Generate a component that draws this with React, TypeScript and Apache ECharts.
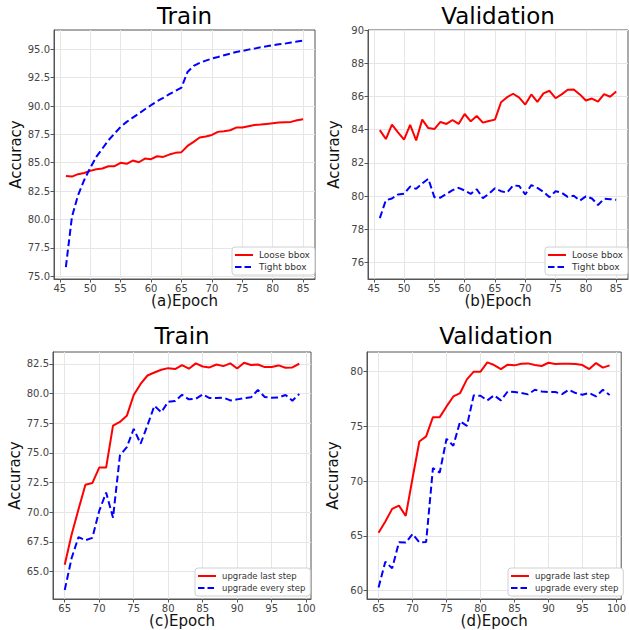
import React, { useEffect, useRef } from 'react';
import * as echarts from 'echarts';

// ---------- data ----------
const epochsTop = [46, 47, 48, 49, 50, 51, 52, 53, 54, 55, 56, 57, 58, 59, 60, 61, 62, 63, 64, 65, 66, 67, 68, 69, 70, 71, 72, 73, 74, 75, 76, 77, 78, 79, 80, 81, 82, 83, 84, 85];
const epochsBottom = [65, 66, 67, 68, 69, 70, 71, 72, 73, 74, 75, 76, 77, 78, 79, 80, 81, 82, 83, 84, 85, 86, 87, 88, 89, 90, 91, 92, 93, 94, 95, 96, 97, 98, 99];

const trainLoose = [83.84, 83.78, 83.99, 84.1, 84.28, 84.43, 84.49, 84.69, 84.69, 84.99, 84.9, 85.19, 85.04, 85.37, 85.31, 85.57, 85.51, 85.72, 85.87, 85.93, 86.48, 86.84, 87.22, 87.31, 87.45, 87.72, 87.78, 87.86, 88.1, 88.1, 88.22, 88.33, 88.36, 88.42, 88.48, 88.54, 88.57, 88.6, 88.74, 88.83];
const trainTight = [75.8, 80.23, 82.14, 83.46, 84.54, 85.51, 86.25, 86.98, 87.57, 88.16, 88.6, 88.98, 89.33, 89.71, 90.07, 90.42, 90.71, 91.04, 91.33, 91.62, 93.0, 93.53, 93.8, 94.0, 94.18, 94.32, 94.47, 94.62, 94.76, 94.85, 94.97, 95.06, 95.18, 95.26, 95.35, 95.44, 95.5, 95.59, 95.68, 95.76];
const valLoose = [83.97, 83.43, 84.3, 83.83, 83.39, 84.28, 83.35, 84.6, 84.09, 84.03, 84.46, 84.34, 84.58, 84.34, 84.94, 84.5, 84.82, 84.42, 84.52, 84.6, 85.65, 85.95, 86.16, 85.93, 85.51, 86.12, 85.67, 86.18, 86.34, 85.89, 86.12, 86.4, 86.42, 86.12, 85.75, 85.87, 85.69, 86.14, 85.98, 86.3];
const valTight = [78.67, 79.75, 79.85, 80.09, 80.13, 80.57, 80.43, 80.76, 81.04, 79.93, 79.9, 80.13, 80.35, 80.49, 80.33, 80.13, 80.41, 79.87, 80.13, 80.47, 80.29, 80.2, 80.64, 80.6, 80.09, 80.66, 80.49, 80.25, 79.93, 80.29, 80.2, 79.95, 80.01, 79.72, 79.98, 79.85, 79.46, 79.83, 79.81, 79.77];

const trainLast = [65.56, 68.11, 70.24, 72.3, 72.45, 73.75, 73.75, 77.29, 77.6, 78.11, 79.87, 80.8, 81.51, 81.76, 81.99, 82.13, 82.05, 82.39, 82.08, 82.53, 82.27, 82.19, 82.44, 82.3, 82.53, 82.1, 82.58, 82.39, 82.44, 82.22, 82.22, 82.36, 82.16, 82.19, 82.5];
const trainEvery = [63.44, 66.13, 67.89, 67.63, 67.83, 70.1, 71.65, 69.53, 74.77, 75.48, 77.01, 75.76, 77.32, 78.96, 78.42, 79.3, 79.36, 79.89, 79.5, 79.55, 79.92, 79.61, 79.61, 79.64, 79.41, 79.5, 79.61, 79.67, 80.29, 79.7, 79.64, 79.65, 79.87, 79.39, 79.95];
const valLast = [65.3, 66.31, 67.47, 67.77, 66.83, 70.27, 73.63, 74.09, 75.85, 75.85, 76.83, 77.74, 78.05, 79.3, 80.0, 80.0, 80.85, 80.61, 80.24, 80.64, 80.58, 80.73, 80.76, 80.61, 80.52, 80.82, 80.7, 80.73, 80.73, 80.7, 80.61, 80.24, 80.79, 80.37, 80.58];
const valEvery = [60.3, 62.65, 62.04, 64.42, 64.39, 65.18, 64.42, 64.45, 71.19, 70.79, 73.87, 73.23, 75.46, 75.06, 77.84, 77.8, 77.38, 77.84, 77.38, 78.2, 78.14, 78.05, 77.93, 78.35, 78.2, 78.14, 78.14, 77.96, 78.35, 78.05, 77.9, 78.05, 77.74, 78.35, 77.87];

const xTicksTop = [45, 50, 55, 60, 65, 70, 75, 80, 85];
const xTicksBottom = [65, 70, 75, 80, 85, 90, 95, 100];
const yTicksA = [75, 77.5, 80, 82.5, 85, 87.5, 90, 92.5, 95];
const yTicksB = [76, 78, 80, 82, 84, 86, 88, 90];
const yTicksC = [65, 67.5, 70, 72.5, 75, 77.5, 80, 82.5];
const yTicksD = [60, 65, 70, 75, 80];

const titles = ['Train', 'Validation', 'Train', 'Validation'];
const xNames = ['(a)Epoch', '(b)Epoch', '(c)Epoch', '(d)Epoch'];
const legendTop = ['Loose bbox', 'Tight bbox'];
const legendBottom = ['upgrade last step', 'upgrade every step'];

// ---------- helpers ----------
const FONT = 'DejaVu Sans';
const RED = '#ff0000';
const BLUE = '#0000ff';
const SPINE = '#555555';
const GRIDC = '#e6e6e6';

const ICON_SOLID = 'path://M0,0h18v2h-18z';
const ICON_DASH = 'path://M0,0h6.5v2h-6.5z M9.5,0h6.5v2h-6.5z M18,0h0v2h0z';

const pairs = (xs: number[], ys: number[]) => xs.map((x, i) => [x, ys[i]]);

const grids = [
  { left: 54, top: 30, width: 261, height: 249 },
  { left: 368, top: 30, width: 260, height: 249 },
  { left: 53, top: 352, width: 258, height: 247 },
  { left: 367, top: 352, width: 258, height: 247 },
];

const xRanges = [
  [44.05, 86.95],
  [44.05, 86.95],
  [63.3, 100.7],
  [63.3, 100.7],
];
const yRanges = [
  [74.75, 96.7],
  [75, 90],
  [62.68, 83.49],
  [59.24, 81.8],
];
const yTicks = [yTicksA, yTicksB, yTicksC, yTicksD];
const yFmt = [
  (v: number) => v.toFixed(1),
  (v: number) => String(Math.round(v)),
  (v: number) => v.toFixed(1),
  (v: number) => String(Math.round(v)),
];

export default function App() {
  const ref = useRef<HTMLDivElement>(null);
  useEffect(() => {
    if (!ref.current) return;
    const chart = echarts.init(ref.current, undefined, { renderer: 'svg' });

    const xAxis = grids.map((_, i) => ({
      type: 'value',
      gridIndex: i,
      min: xRanges[i][0],
      max: xRanges[i][1],
      name: xNames[i],
      nameLocation: 'middle',
      nameGap: 14,
      nameTextStyle: { fontSize: 15, color: '#111', fontFamily: FONT },
      axisLine: { show: true, lineStyle: { color: SPINE, width: 1 } },
      axisTick: { show: true, length: 3.5, customValues: i < 2 ? xTicksTop : xTicksBottom, lineStyle: { color: SPINE } },
      axisLabel: { customValues: i < 2 ? xTicksTop : xTicksBottom, fontSize: 10, color: '#444', margin: 4, fontFamily: FONT },
      splitLine: { show: true, lineStyle: { color: GRIDC, width: 1 } },
    }));

    const yAxis = grids.map((_, i) => ({
      type: 'value',
      gridIndex: i,
      min: yRanges[i][0],
      max: yRanges[i][1],
      name: 'Accuracy',
      nameLocation: 'middle',
      nameGap: 27,
      nameTextStyle: { fontSize: 15, color: '#111', fontFamily: FONT },
      axisLine: { show: true, lineStyle: { color: SPINE, width: 1 } },
      axisTick: { show: true, length: 3.5, customValues: yTicks[i], lineStyle: { color: SPINE } },
      axisLabel: { customValues: yTicks[i], fontSize: 10, color: '#444', margin: 4, fontFamily: FONT, formatter: yFmt[i] },
      splitLine: { show: true, lineStyle: { color: GRIDC, width: 1 } },
    }));

    const seriesDefs = [
      { name: legendTop[0], xs: epochsTop, ys: trainLoose, color: RED, dash: false, idx: 0 },
      { name: legendTop[1], xs: epochsTop, ys: trainTight, color: BLUE, dash: true, idx: 0 },
      { name: legendTop[0], xs: epochsTop, ys: valLoose, color: RED, dash: false, idx: 1 },
      { name: legendTop[1], xs: epochsTop, ys: valTight, color: BLUE, dash: true, idx: 1 },
      { name: legendBottom[0], xs: epochsBottom, ys: trainLast, color: RED, dash: false, idx: 2 },
      { name: legendBottom[1], xs: epochsBottom, ys: trainEvery, color: BLUE, dash: true, idx: 2 },
      { name: legendBottom[0], xs: epochsBottom, ys: valLast, color: RED, dash: false, idx: 3 },
      { name: legendBottom[1], xs: epochsBottom, ys: valEvery, color: BLUE, dash: true, idx: 3 },
    ];

    const series = seriesDefs.map((s) => ({
      type: 'line',
      name: s.name,
      xAxisIndex: s.idx,
      yAxisIndex: s.idx,
      data: pairs(s.xs, s.ys),
      symbol: 'none',
      showSymbol: false,
      smooth: false,
      itemStyle: { color: s.color },
      lineStyle: { color: s.color, width: 2, type: s.dash ? [7, 3.5] : 'solid' },
      emphasis: { disabled: true },
    }));

    const legendPos = [
      { left: 232, top: 247, data: legendTop, fs: 9 },
      { left: 545, top: 247, data: legendTop, fs: 9 },
      { left: 195, top: 568, data: legendBottom, fs: 8.5 },
      { left: 508, top: 568, data: legendBottom, fs: 8.5 },
    ];
    const legend = legendPos.map((l) => ({
      left: l.left,
      top: l.top,
      data: [
        { name: l.data[0], icon: ICON_SOLID },
        { name: l.data[1], icon: ICON_DASH },
      ],
      orient: 'vertical',
      itemWidth: 18,
      itemHeight: 2,
      itemGap: 2,
      symbolKeepAspect: false,
      padding: [3, 5, 3, 3],
      backgroundColor: '#ffffff',
      borderColor: '#d0d0d0',
      borderWidth: 1,
      borderRadius: 3,
      selectedMode: false,
      itemStyle: { borderWidth: 0 },
      lineStyle: { width: 0 },
      textStyle: { fontSize: l.fs, color: '#333', fontFamily: FONT, lineHeight: 10, padding: [0, 0, 0, 1] },
    }));

    const titleX = [184.5, 498, 182, 496];
    const titleY = [16, 16, 336, 336];
    const graphic = titles.map((t, i) => ({
      type: 'text',
      x: titleX[i],
      y: titleY[i],
      style: {
        text: t,
        font: `23px "${FONT}"`,
        fill: '#000',
        textAlign: 'center',
        textVerticalAlign: 'middle',
      },
    }));

    chart.setOption({
      animation: false,
      textStyle: { fontFamily: FONT },
      grid: grids.map((g) => ({ ...g, show: true, borderColor: SPINE, borderWidth: 1, backgroundColor: 'transparent', containLabel: false })),
      xAxis,
      yAxis,
      series,
      legend,
      graphic,
    });
    return () => chart.dispose();
  }, []);
  return <div ref={ref} style={{ position: 'absolute', left: 0, top: 0, width: 629, height: 630, background: '#fff' }} />;
}
